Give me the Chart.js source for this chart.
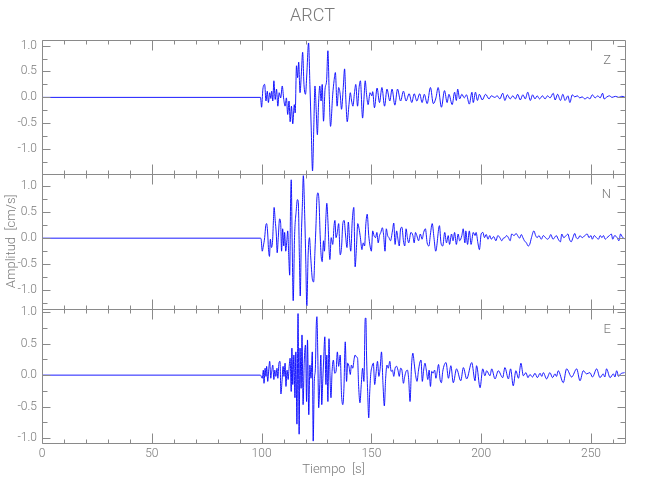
<!DOCTYPE html>
<html>
<head>
<meta charset="utf-8">
<title>ARCT</title>
<script src="https://cdn.jsdelivr.net/npm/chart.js@4.4.1/dist/chart.umd.min.js"></script>
<style>
  html, body { margin: 0; padding: 0; background: #fff; }
  #wrap { width: 650px; height: 500px; }
</style>
</head>
<body>
<div id="wrap"><canvas id="seismo" width="650" height="500"></canvas></div>
<script>
// Station ARCT, velocity traces (time in s, amplitude in cm/s)

// vertical component
const zTime = [
  0, 99.5, 100.0, 100.6, 101.4, 102.0, 102.6, 103.1, 103.7, 104.2,
  104.6, 105.1, 105.6, 106.2, 106.8, 107.4, 108.0, 108.7, 109.4, 110.1,
  110.7, 111.3, 111.9, 112.5, 113.0, 113.6, 114.2, 114.9, 115.3, 115.9,
  116.4, 116.9, 117.5, 118.1, 118.7, 119.3, 120.0, 120.6, 121.4, 122.0,
  122.6, 123.2, 123.8, 124.3, 124.9, 125.4, 126.0, 126.5, 127.1, 127.6,
  128.2, 128.9, 129.6, 130.2, 130.8, 131.4, 132.4, 133.0, 133.6, 134.4,
  135.1, 135.8, 136.4, 137.2, 137.8, 138.4, 139.0, 139.8, 140.4, 141.0,
  141.6, 142.3, 142.9, 143.7, 144.4, 145.0, 146.0, 146.6, 147.2, 147.8,
  148.5, 149.4, 150.2, 150.6, 151.4, 152.6, 153.7, 154.8, 156.0, 157.1,
  158.4, 159.4, 160.7, 161.9, 163.3, 164.6, 165.8, 167.2, 168.4, 169.5,
  170.7, 172.0, 173.1, 174.1, 175.4, 176.9, 178.2, 179.4, 180.4, 181.9,
  183.3, 184.5, 185.3, 186.8, 187.9, 188.7, 189.3, 190.2, 191.2, 192.3,
  193.3, 194.6, 195.8, 196.4, 197.4, 198.3, 199.2, 200.5, 202.0, 203.6,
  204.6, 206.2, 207.3, 208.5, 209.8, 210.8, 211.9, 213.2, 214.4, 215.6,
  216.6, 217.8, 219.0, 220.1, 221.2, 222.4, 223.4, 224.5, 225.5, 226.6,
  227.9, 229.1, 230.2, 231.4, 232.8, 233.7, 234.8, 236.1, 237.2, 238.2,
  239.5, 240.4, 241.5, 242.6, 243.8, 244.9, 246.0, 247.2, 248.5, 249.5,
  250.6, 251.9, 253.1, 254.2, 255.3, 256.0, 257.3, 258.4, 259.6, 261.1,
  262.7, 264.0, 265.3
];
const zAmp = [
  0, 0, -0.19, 0.16, 0.25, -0.07, 0.12, -0.10, 0.09, -0.02,
  0.12, -0.07, 0.32, -0.04, 0.16, -0.17, 0.09, -0.01, 0.22, -0.04,
  -0.17, -0.01, -0.33, -0.07, -0.47, -0.17, -0.51, -0.14, -0.30, 0.61,
  0.38, 0.68, 0.09, 0.45, 0.87, 0.25, 0.06, 0.45, 1.05, 0.25,
  -0.59, -1.42, -0.53, 0.22, -0.27, -0.72, -0.07, 0.22, -0.07, 0.25,
  -0.46, 0.16, 0.32, 0.90, 0.06, -0.56, 0.06, 0.32, 0.48, -0.17,
  0.19, 0.06, -0.23, 0.19, 0.55, -0.07, -0.47, -0.14, 0.09, -0.07,
  -0.17, 0.09, 0.25, -0.17, 0.19, 0.32, -0.40, -0.04, 0.32, 0.06,
  -0.14, 0.09, 0.03, 0.11, -0.20, 0.18, -0.10, 0.19, -0.17, 0.16,
  -0.07, 0.16, -0.15, 0.16, -0.07, 0.12, -0.07, 0.07, -0.10, 0.07,
  -0.07, 0.07, -0.10, 0.06, -0.12, 0.19, -0.12, -0.01, 0.19, -0.19,
  0.13, -0.10, 0.06, -0.14, 0.10, -0.06, 0.16, -0.03, 0.06, -0.01,
  0.05, -0.13, 0.10, -0.10, 0.10, -0.06, 0.06, -0.05, 0.06, -0.03,
  0.03, 0.00, 0.03, -0.03, 0.08, -0.06, 0.05, -0.03, 0.03, -0.03,
  0.06, -0.05, 0.05, -0.03, 0.10, -0.06, 0.05, -0.03, 0.03, -0.03,
  0.03, -0.03, 0.03, -0.01, 0.08, -0.05, 0.06, -0.06, 0.06, -0.06,
  0.03, -0.10, 0.05, 0.01, 0.03, -0.01, 0.01, -0.03, 0.00, -0.03,
  0.05, -0.01, 0.03, -0.01, 0.08, -0.03, 0.01, 0.03, 0.00, 0.02,
  0.00, 0.02, 0.01
];

// north component
const nTime = [
  0, 99.5, 99.8, 100.3, 100.8, 101.4, 101.9, 102.3, 102.8, 103.1,
  103.6, 104.0, 104.5, 105.0, 105.4, 105.7, 106.2, 106.7, 107.1, 107.6,
  108.2, 108.7, 109.1, 109.6, 110.1, 110.5, 111.0, 111.5, 111.9, 112.4,
  112.8, 113.2, 113.5, 113.9, 114.4, 115.0, 115.8, 116.3, 116.7, 117.2,
  117.6, 118.1, 118.6, 119.0, 119.7, 120.1, 120.6, 121.2, 121.8, 122.4,
  123.1, 123.7, 124.3, 124.8, 125.2, 125.7, 126.2, 126.6, 127.1, 127.6,
  128.2, 128.6, 129.3, 129.7, 130.2, 130.7, 131.1, 131.7, 132.4, 133.0,
  133.4, 133.9, 134.5, 135.1, 135.8, 136.4, 137.0, 137.6, 138.2, 138.9,
  139.5, 140.1, 140.6, 141.3, 142.0, 142.6, 143.2, 143.8, 144.4, 145.0,
  145.7, 146.3, 146.9, 147.5, 148.1, 148.8, 149.4, 150.0, 150.6, 151.2,
  151.9, 152.5, 153.1, 153.7, 154.3, 155.0, 155.6, 156.2, 156.8, 157.4,
  158.0, 158.7, 159.6, 160.2, 160.8, 161.5, 162.1, 162.7, 163.3, 163.9,
  164.6, 165.2, 165.8, 166.4, 167.0, 168.0, 168.9, 169.5, 170.1, 170.7,
  171.5, 172.3, 173.1, 173.8, 174.6, 175.4, 176.2, 176.9, 177.7, 178.5,
  179.3, 181.0, 181.7, 182.5, 183.4, 184.2, 185.0, 185.6, 186.5, 187.2,
  187.9, 188.7, 189.5, 190.2, 191.2, 191.8, 192.6, 193.0, 193.8, 194.6,
  195.4, 196.4, 197.2, 197.7, 198.5, 199.2, 200.0, 200.8, 201.5, 202.3,
  203.1, 203.9, 204.6, 205.7, 206.7, 207.6, 208.5, 209.4, 210.1, 210.8,
  211.6, 212.4, 213.2, 213.9, 215.0, 215.9, 216.6, 217.5, 218.3, 219.0,
  219.7, 220.6, 221.4, 222.1, 222.9, 224.0, 224.8, 225.5, 226.3, 227.4,
  228.3, 229.3, 230.2, 231.0, 231.7, 232.7, 233.4, 234.2, 235.1, 236.1,
  236.7, 237.6, 238.7, 239.5, 240.2, 241.0, 241.8, 242.6, 243.3, 244.1,
  245.0, 246.0, 247.2, 248.3, 249.1, 250.0, 250.6, 251.5, 252.5, 253.4,
  254.2, 255.0, 255.7, 256.5, 257.3, 258.4, 259.3, 259.9, 260.8, 261.9,
  262.7, 263.5, 264.2, 265.3
];
const nAmp = [
  0, 0, -0.02, -0.25, -0.15, 0.01, 0.24, 0.28, 0.08, -0.18,
  -0.35, -0.02, -0.18, -0.05, 0.34, 0.59, 0.34, 0.08, -0.28, 0.01,
  0.37, 0.28, -0.25, 0.18, -0.15, 0.11, -0.25, -0.05, 0.14, -0.38,
  -0.71, 0.67, 1.12, 0.01, -1.20, 0.01, 0.54, 0.74, 0.70, -0.32,
  -1.11, 0.01, 0.67, 1.20, 0.34, -0.38, -1.30, -0.32, 0.01, -0.38,
  -0.78, -0.84, -0.25, 0.28, 0.77, 0.87, 0.67, 0.14, -0.32, -0.45,
  -0.05, -0.25, 0.41, 0.67, 0.34, -0.18, -0.41, 0.01, -0.12, 0.24,
  0.34, 0.01, 0.11, 0.28, -0.32, -0.18, 0.28, 0.34, 0.08, -0.18,
  0.31, -0.05, -0.25, 0.34, 0.59, -0.55, -0.18, 0.28, 0.18, 0.01,
  -0.22, -0.09, -0.15, 0.28, 0.46, 0.05, -0.15, -0.25, 0.14, 0.05,
  0.01, 0.11, -0.09, 0.05, 0.11, 0.20, 0.05, -0.25, 0.18, 0.05,
  0.01, -0.05, 0.14, 0.29, -0.12, 0.14, -0.02, -0.15, 0.18, 0.21,
  -0.05, -0.15, 0.18, 0.01, -0.09, 0.11, 0.05, -0.09, 0.11, 0.05,
  -0.05, 0.08, -0.02, 0.11, 0.18, -0.09, -0.15, 0.08, 0.28, 0.01,
  -0.25, 0.24, -0.09, -0.15, 0.11, -0.09, 0.05, -0.12, 0.08, -0.05,
  0.11, -0.12, 0.08, -0.05, 0.05, 0.18, -0.09, 0.14, -0.12, 0.14,
  -0.12, 0.11, 0.05, 0.11, -0.09, -0.22, 0.08, 0.11, 0.01, 0.07,
  -0.02, 0.05, -0.02, 0.03, -0.05, 0.05, 0.01, -0.05, 0.00, 0.01,
  0.05, 0.01, -0.05, 0.08, 0.05, 0.09, 0.05, 0.00, 0.07, 0.01,
  -0.05, -0.09, -0.15, -0.12, 0.01, 0.14, 0.05, 0.01, 0.05, -0.02,
  0.05, 0.01, -0.02, 0.01, 0.07, -0.02, 0.01, 0.05, -0.02, -0.07,
  0.08, 0.01, 0.05, 0.08, -0.02, -0.07, 0.01, 0.09, 0.01, -0.01,
  0.05, 0.01, 0.05, 0.08, 0.01, 0.05, -0.02, 0.05, 0.01, -0.02,
  0.05, 0.01, 0.05, -0.02, 0.01, 0.05, 0.08, -0.02, 0.05, 0.01,
  -0.05, 0.08, 0.03, -0.02
];

// east component
const eTime = [
  0, 99.5, 100.3, 100.8, 101.1, 101.6, 102.0, 102.3, 102.8, 103.3,
  103.7, 104.2, 104.6, 105.1, 105.6, 106.0, 106.5, 107.0, 107.4, 107.9,
  108.4, 108.8, 109.3, 109.8, 110.2, 110.7, 111.1, 111.6, 112.1, 112.5,
  113.0, 113.5, 113.8, 114.2, 114.7, 115.2, 115.6, 116.1, 116.6, 117.1,
  117.5, 118.0, 118.4, 118.9, 119.4, 120.0, 120.5, 120.9, 121.5, 122.0,
  122.5, 123.1, 123.5, 124.0, 124.5, 124.9, 125.2, 125.6, 126.0, 126.5,
  127.0, 127.4, 127.9, 128.3, 128.8, 129.3, 129.7, 130.2, 130.7, 131.1,
  131.6, 132.1, 132.7, 133.3, 133.9, 134.5, 135.1, 135.8, 136.4, 137.0,
  137.5, 138.1, 138.7, 139.2, 139.8, 140.4, 140.9, 141.5, 142.2, 142.6,
  143.2, 143.7, 144.2, 144.8, 145.4, 146.0, 146.6, 147.2, 147.5, 147.8,
  148.3, 148.8, 149.2, 149.7, 150.3, 150.9, 151.5, 152.2, 152.8, 153.4,
  154.0, 154.6, 155.3, 155.9, 156.5, 157.1, 157.7, 158.4, 159.0, 159.6,
  160.2, 160.8, 161.5, 162.1, 162.7, 163.3, 163.9, 164.6, 165.2, 165.8,
  166.4, 167.0, 167.6, 168.3, 168.9, 169.5, 170.1, 170.8, 171.4, 172.0,
  172.6, 173.2, 173.8, 174.4, 175.1, 175.7, 176.3, 176.9, 177.5, 178.1,
  178.8, 179.4, 180.0, 180.6, 181.3, 181.9, 182.5,
  184.0, 185.1, 186.2, 187.3, 188.8, 190.7, 191.9, 193.4, 195.7, 197.2,
  197.9, 199.5, 200.7, 201.7, 202.5, 204.0, 204.8, 206.3, 207.8, 209.8,
  210.8, 212.4, 213.4, 214.6, 215.8, 217.0, 218.1, 219.2, 220.4, 221.3,
  222.2, 223.4, 224.5, 225.6, 226.8, 227.6, 228.3, 229.8, 231.3, 232.5,
  233.6, 234.3, 235.1, 237.4, 238.9, 241.2, 243.5, 245.0, 246.5, 248.0,
  249.5, 250.7, 252.6, 254.1, 255.6, 256.3, 257.1, 258.7, 260.2, 260.9,
  261.7, 262.6, 263.5, 265.3
];
const eAmp = [
  0, 0, -0.05, 0.08, -0.13, 0.11, -0.02, 0.14, -0.10, 0.11,
  0.22, -0.05, 0.06, 0.16, -0.07, 0.08, -0.02, 0.11, -0.05, 0.19,
  0.22, -0.30, -0.10, 0.14, -0.02, 0.19, -0.18, 0.08, -0.07, 0.11,
  0.27, -0.26, 0.43, -0.15, 0.32, -0.36, 0.37, -0.78, 0.98, -0.94,
  0.43, -0.21, 0.64, -0.47, 0.19, 0.48, -0.42, 0.56, -0.63, 0.16,
  -0.05, 0.37, -1.05, -0.10, 0.11, 0.79, 0.93, 0.32, -0.52, -0.15,
  0.32, -0.47, -0.05, 0.27, 0.61, -0.15, 0.32, -0.42, 0.58, 0.06,
  -0.36, 0.06, 0.24, 0.03, 0.06, 0.37, 0.14, 0.32, -0.31, -0.47,
  -0.21, 0.53, -0.10, 0.19, 0.14, 0.01, 0.16, 0.11, 0.27, 0.32,
  0.29, 0.27, -0.18, -0.44, -0.15, 0.11, -0.10, 0.90, 0.91, 0.32,
  -0.26, -0.68, -0.31, 0.01, 0.14, 0.19, -0.15, 0.06, 0.22, -0.02,
  0.11, 0.37, -0.15, -0.49, -0.05, 0.16, 0.11, 0.22, 0.06, 0.08,
  -0.02, 0.11, 0.14, 0.08, -0.02, 0.11, 0.08, -0.13, -0.02, 0.06,
  0.08, -0.07, -0.42, 0.16, 0.35, 0.19, 0.01, -0.10, 0.06, 0.19,
  0.24, -0.10, 0.08, 0.19, 0.06, -0.07, 0.08, -0.18, 0.06, 0.03,
  0.08, -0.05, 0.06, 0.17, -0.07, -0.12, 0.06,
  0.20, -0.05, 0.15, -0.12, 0.10, -0.09, 0.12, -0.06, 0.20, -0.09,
  0.15, -0.20, 0.10, -0.01, 0.07, -0.01, 0.10, -0.06, 0.07, -0.04,
  0.12, -0.06, 0.10, -0.17, 0.07, -0.05, 0.19, -0.01, 0.04, -0.04,
  0.01, -0.03, 0.03, -0.04, 0.03, -0.02, 0.04, -0.06, 0.04, -0.04,
  0.02, -0.02, 0.07, -0.12, 0.10, -0.03, 0.10, -0.09, 0.07, 0.02,
  0.04, -0.03, 0.10, -0.04, 0.02, -0.03, 0.10, -0.04, 0.02, -0.03,
  0.07, -0.02, 0.02, 0.04
];

const axisColor = '#8a8a8a';
const textColor = '#7a7a7a';
const traceColor = '#0000ff';
const fontFamily = "Roboto, 'Liberation Sans', sans-serif";
const fontWeight = 300;

// one panel per component, top to bottom
const panels = [
  { id: 'yZ', label: 'Z', time: zTime, amp: zAmp, min: -1.48, max: 1.115 },
  { id: 'yN', label: 'N', time: nTime, amp: nAmp, min: -1.35, max: 1.23 },
  { id: 'yE', label: 'E', time: eTime, amp: eAmp, min: -1.08, max: 1.06 }
];

function isHalf(v) {
  return Math.abs(v * 2 - Math.round(v * 2)) < 1e-6;
}

function yScale(p, withTitle) {
  return {
    type: 'linear',
    position: 'left',
    stack: 'components',
    stackWeight: 1,
    min: p.min,
    max: p.max,
    grid: { display: false, drawTicks: false },
    border: { display: false },
    ticks: {
      stepSize: 0.25,
      includeBounds: false,
      autoSkip: false,
      padding: 5,
      color: textColor,
      font: { family: fontFamily, size: 12, weight: fontWeight },
      callback: v => isHalf(v) ? (Math.round(v * 10) / 10).toFixed(1) : ''
    },
    title: {
      display: withTitle,
      text: 'Amplitud  [cm/s]',
      color: textColor,
      font: { family: fontFamily, size: 13, weight: fontWeight },
      padding: { top: 4, bottom: 0 }
    },
    afterFit: s => { s.width = 42; }
  };
}

const scales = {
  x: {
    type: 'linear',
    min: 0,
    max: 265.5,
    grid: { display: false, drawTicks: false },
    border: { display: false },
    ticks: {
      stepSize: 10,
      includeBounds: false,
      autoSkip: false,
      maxRotation: 0,
      padding: 4,
      color: textColor,
      font: { family: fontFamily, size: 12, weight: fontWeight },
      callback: v => v % 50 === 0 ? String(v) : ''
    },
    title: {
      display: true,
      text: 'Tiempo  [s]',
      color: textColor,
      font: { family: fontFamily, size: 13, weight: fontWeight },
      padding: { top: 2, bottom: 22 }
    },
    afterFit: s => { s.height = 57; }
  }
};
// stacked left axes are laid out last-first, so add them bottom panel first
panels.slice().reverse().forEach(p => { scales[p.id] = yScale(p, p.id === 'yN'); });

// frame around each panel with inward ticks, plus the component letter
const panelFrames = {
  id: 'panelFrames',
  afterDatasetsDraw(chart) {
    const { ctx, chartArea: area } = chart;
    const xs = chart.scales.x;
    const left = Math.round(area.left) + 0.5;
    const right = Math.round(area.right) + 0.5;
    ctx.save();
    ctx.strokeStyle = axisColor;
    ctx.lineWidth = 1;
    ctx.beginPath();
    panels.forEach(p => {
      const ys = chart.scales[p.id];
      const top = Math.round(ys.top) + 0.5;
      const bottom = Math.round(ys.bottom) + 0.5;
      ctx.rect(left, top, right - left, bottom - top);
      ys.ticks.forEach(t => {
        const y = Math.round(ys.getPixelForValue(t.value)) + 0.5;
        const len = isHalf(t.value) ? 8 : 5;
        ctx.moveTo(left, y); ctx.lineTo(left + len, y);
        ctx.moveTo(right, y); ctx.lineTo(right - len, y);
      });
      xs.ticks.forEach(t => {
        const x = Math.round(xs.getPixelForValue(t.value)) + 0.5;
        const len = t.value % 50 === 0 ? 10 : 4;
        ctx.moveTo(x, top); ctx.lineTo(x, top + len);
        ctx.moveTo(x, bottom); ctx.lineTo(x, bottom - len);
      });
    });
    ctx.stroke();

    ctx.fillStyle = textColor;
    ctx.font = fontWeight + ' 13px ' + fontFamily;
    ctx.textAlign = 'right';
    ctx.textBaseline = 'middle';
    panels.forEach(p => {
      const ys = chart.scales[p.id];
      ctx.fillText(p.label, area.right - 14, ys.top + 21);
    });
    ctx.restore();
  }
};

new Chart(document.getElementById('seismo'), {
  type: 'line',
  data: {
    datasets: panels.map(p => ({
      label: p.label,
      data: p.time.map((t, i) => ({ x: t, y: p.amp[i] })),
      yAxisID: p.id,
      borderColor: traceColor,
      borderWidth: 0.9,
      pointRadius: 0,
      cubicInterpolationMode: 'monotone',
      fill: false
    }))
  },
  options: {
    responsive: false,
    animation: false,
    layout: { padding: { left: 0, right: 25, top: 0, bottom: 0 } },
    scales: scales,
    plugins: {
      legend: { display: false },
      tooltip: { enabled: false },
      title: {
        display: true,
        text: 'ARCT',
        color: textColor,
        font: { family: fontFamily, size: 18, weight: fontWeight },
        padding: { top: 6, bottom: 12 }
      }
    }
  },
  plugins: [panelFrames]
});
</script>
</body>
</html>
